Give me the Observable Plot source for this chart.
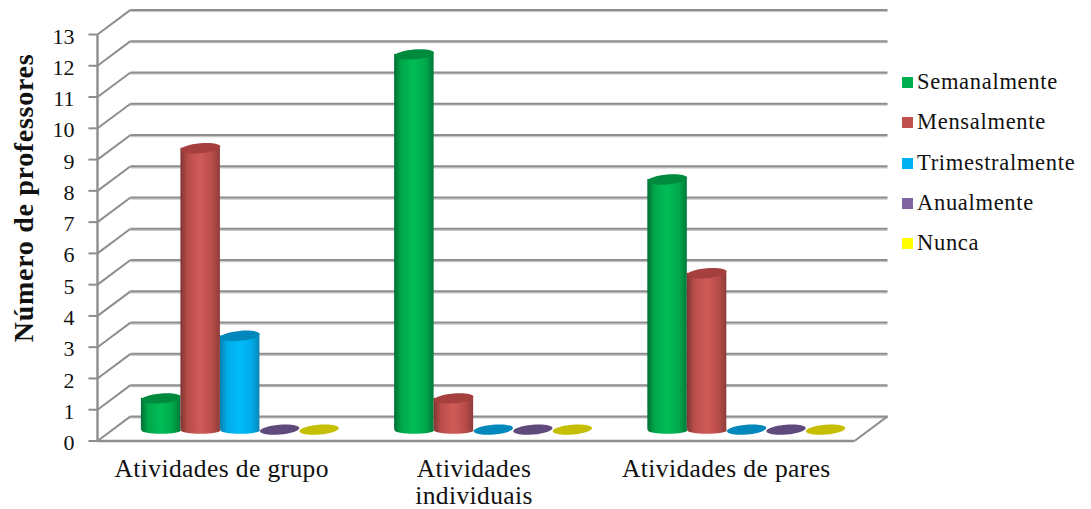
<!DOCTYPE html>
<html lang="pt">
<head>
<meta charset="utf-8">
<script src="https://cdn.jsdelivr.net/npm/d3@7"></script>
<script src="https://cdn.jsdelivr.net/npm/@observablehq/plot@0.6"></script>
<style>
html,body{margin:0;padding:0;background:#fff;}
#wrap{position:relative;width:1091px;height:509px;overflow:hidden;font-family:"Liberation Serif",serif;}
#legend{position:absolute;left:902px;top:0;color:#111;font-size:22.5px;letter-spacing:.7px;}
#legend div{position:absolute;left:0;white-space:nowrap;line-height:24px;height:24px;}
#legend i{position:absolute;left:0;top:7px;width:11px;height:11px;}
#legend span{position:absolute;left:15px;top:0;}
</style>
</head>
<body>
<div id="wrap"><div id="chart"></div><div id="legend"></div></div>
<script>
const categories = ["Atividades de grupo", "Atividades\nindividuais", "Atividades de pares"];
const seriesNames = ["Semanalmente", "Mensalmente", "Trimestralmente", "Anualmente", "Nunca"];
const yTitle = "Número de professores";
const semanalmente = [1, 12, 8];
const mensalmente = [9, 1, 5];
const trimestralmente = [3, 0, 0];
const anualmente = [0, 0, 0];
const nunca = [0, 0, 0];
const seriesValues = [semanalmente, mensalmente, trimestralmente, anualmente, nunca];
const yTicks = d3.range(0, 14);
const legendColors = ["#00B050", "#C0504D", "#00B0F0", "#8064A2", "#FFFF00"];
const topColors = ["#008A3E", "#A5403E", "#0088BC", "#604A7B", "#C6BE00"];
const gradients = [
  ["#006E35", "#00A84A", "#00BD57", "#00A84A", "#007A3A"],
  ["#7E3533", "#B84C49", "#D05B58", "#B84C49", "#8E3C3A"],
  ["#0A7FAE", "#00ABE8", "#00BBF8", "#00ABE8", "#0A86B6"],
  ["#4A3860", "#604A7B", "#6E5690", "#604A7B", "#4A3860"],
  ["#A09A00", "#C6BE00", "#D8D000", "#C6BE00", "#A09A00"]
];

// 3D projection, in data units
const depthX = 33 / 252.33, depthY = 24.6 / 31.27;
const barW = 39.5 / 252.33;
const groupStep = 253.2 / 252.33;
const pad = (1 - 5 * barW) / 2;
const baseDrop = 0.05;
const topDrop = 0.03;

// ellipse symbols whose half-width equals r
const ellipse = (tiltDeg, ratio) => ({
  draw(ctx, size) {
    const rx = Math.sqrt(size / Math.PI), ry = rx * ratio, t = tiltDeg * Math.PI / 180, k = 0.5523;
    const c = Math.cos(t), s = Math.sin(t);
    const P = (x, y) => [x * c - y * s, x * s + y * c];
    ctx.moveTo(...P(rx, 0));
    ctx.bezierCurveTo(...P(rx, k * ry), ...P(k * rx, ry), ...P(0, ry));
    ctx.bezierCurveTo(...P(-k * rx, ry), ...P(-rx, k * ry), ...P(-rx, 0));
    ctx.bezierCurveTo(...P(-rx, -k * ry), ...P(-k * rx, -ry), ...P(0, -ry));
    ctx.bezierCurveTo(...P(k * rx, -ry), ...P(rx, -k * ry), ...P(rx, 0));
    ctx.closePath();
  }
});
const topEllipse = ellipse(-5, 0.25);
const baseEllipse = ellipse(0, 0.18);

const defs = () => {
  const svg = d3.create("svg:g");
  const d = svg.append("defs");
  gradients.forEach((stops, i) => {
    const g = d.append("linearGradient").attr("id", "cyl" + i);
    stops.forEach((col, j) => g.append("stop").attr("offset", [0, 0.18, 0.5, 0.8, 1][j]).attr("stop-color", col));
  });
  return svg.node();
};

const gridColor = "#8E8E8E";
const wall = yTicks.map(v => ({x1: depthX, x2: 3 + depthX, y: v + depthY, v}));
const barMarks = seriesNames.flatMap((name, s) => {
  const rows = categories.map((c, g) => ({
    x1: g * groupStep + pad + s * barW + depthX / 2,
    x2: g * groupStep + pad + (s + 1) * barW + depthX / 2,
    xc: g * groupStep + pad + (s + 0.5) * barW + depthX / 2,
    y0: depthY / 2 - baseDrop,
    y1: seriesValues[s][g] + depthY / 2 - topDrop,
    v: seriesValues[s][g]
  }));
  const solid = rows.filter(r => r.v > 0);
  return [
    Plot.dot(solid, {x: "xc", y: "y0", r: 19.75, symbol: baseEllipse, fill: `url(#cyl${s})`, stroke: "none"}),
    Plot.rect(solid, {x1: "x1", x2: "x2", y1: "y0", y2: "y1", fill: `url(#cyl${s})`}),
    Plot.dot(rows, {x: "xc", y: "y1", r: 19.75, symbol: topEllipse, fill: topColors[s], stroke: "none"})
  ];
});

const chart = Plot.plot({
  width: 1091, height: 509,
  marginTop: 0, marginRight: 0, marginBottom: 0, marginLeft: 0,
  x: {domain: [0, 3], range: [97, 854], axis: null},
  y: {domain: [0, 13], range: [440.5, 34], axis: null},
  style: {background: "transparent", overflow: "visible"},
  marks: [
    defs,
    // soft lower edge of the gridlines
    Plot.link(wall, {x1: "x1", x2: "x2", y1: "y", y2: "y", stroke: "#C8C8C8", strokeWidth: 1.5, dy: 1.4}),
    // back wall gridlines
    Plot.link(wall, {x1: "x1", x2: "x2", y1: "y", y2: "y", stroke: gridColor, strokeWidth: 2}),
    // side wall diagonals
    Plot.link(yTicks, {x1: 0, x2: depthX, y1: d => d, y2: d => d + depthY, stroke: gridColor, strokeWidth: 2}),
    // floor right edge and front edge
    Plot.link([0], {x1: 3, x2: 3 + depthX, y1: 0, y2: depthY, stroke: gridColor, strokeWidth: 2}),
    Plot.link([0], {x1: 0, x2: 3, y1: 0, y2: 0, stroke: gridColor, strokeWidth: 2.4}),
    // value axis
    Plot.link([0], {x1: 0, x2: 0, y1: 0, y2: 13, stroke: gridColor, strokeWidth: 2.4}),
    Plot.link(yTicks, {x1: -0.036, x2: 0, y1: d => d, y2: d => d, stroke: gridColor, strokeWidth: 2}),
    ...barMarks,
    Plot.text(yTicks, {x: 0, y: d => d, text: d => String(d), textAnchor: "end", dx: -23, dy: 2, fontSize: 22, fill: "#111", fontFamily: "Liberation Serif", fontWeight: 500}),
    Plot.text(categories, {x: (d, i) => i + 0.5, y: 0, text: d => d, dx: -2, dy: 17, lineAnchor: "top", lineHeight: 1.06, fontSize: 25.5, fill: "#111", fontFamily: "Liberation Serif"}),
    Plot.text([yTitle], {frameAnchor: "left", textAnchor: "middle", dx: 24, dy: -57, rotate: -90, fontSize: 28, fontWeight: 700, fill: "#111", fontFamily: "Liberation Serif"})
  ]
});
const texts = d3.select(chart).selectAll("text");
texts.filter(function () { return this.textContent.startsWith("Atividades"); }).style("letter-spacing", "0.4px");
texts.filter(function () { return this.textContent === yTitle; }).style("letter-spacing", "0.7px");
document.getElementById("chart").appendChild(chart);

const legend = d3.select("#legend");
const legendTops = [70, 110, 151, 191, 231];
seriesNames.forEach((name, i) => {
  const row = legend.append("div").style("top", legendTops[i] + "px");
  row.append("i").style("background", legendColors[i]);
  row.append("span").text(name);
});
</script>
</body>
</html>
